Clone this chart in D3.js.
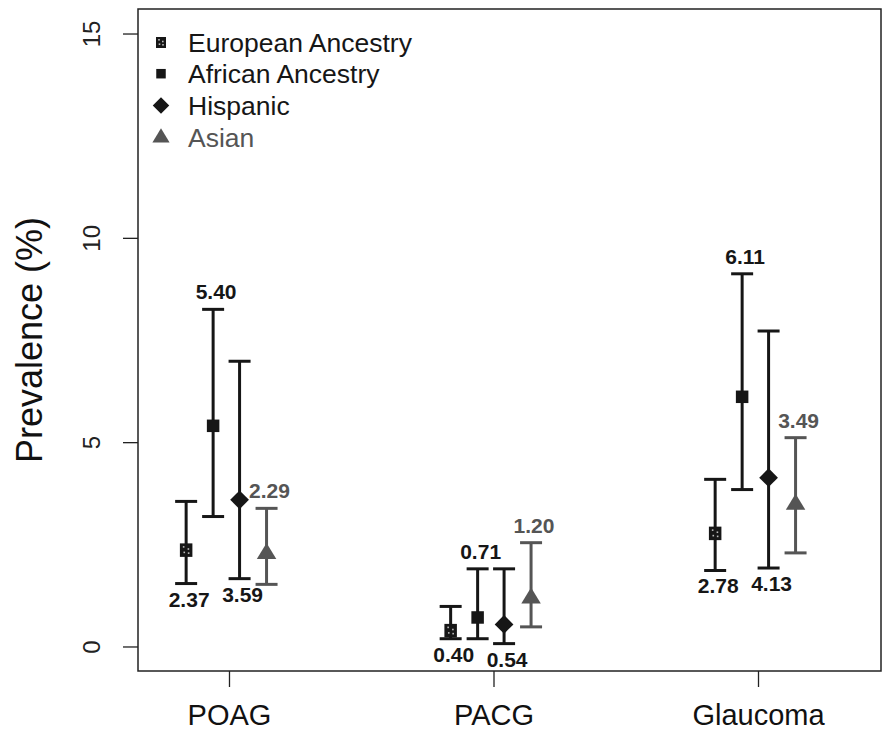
<!DOCTYPE html>
<html>
<head>
<meta charset="utf-8">
<script src="https://cdn.jsdelivr.net/npm/d3@7"></script>
<style>
  html, body { margin: 0; padding: 0; background: #fff; }
  svg { display: block; }
  text { font-family: "Liberation Sans", Arial, Helvetica, sans-serif; }
</style>
</head>
<body>
<svg id="chart" width="884" height="732"></svg>
<script>
// Glaucoma prevalence by ancestry: point estimate with 95% interval
const categories = ["POAG", "PACG", "Glaucoma"];
const groups = ["European Ancestry", "African Ancestry", "Hispanic", "Asian"];

const europeanEst = [2.37, 0.40, 2.78];
const europeanLow = [1.54, 0.19, 1.86];
const europeanHigh = [3.55, 0.98, 4.09];

const africanEst = [5.40, 0.71, 6.11];
const africanLow = [3.18, 0.19, 3.84];
const africanHigh = [8.25, 1.90, 9.12];

const hispanicEst = [3.59, 0.54, 4.13];
const hispanicLow = [1.66, 0.07, 1.92];
const hispanicHigh = [6.98, 1.90, 7.72];

const asianEst = [2.29, 1.20, 3.49];
const asianLow = [1.52, 0.48, 2.29];
const asianHigh = [3.38, 2.54, 5.11];

const yTicks = [0, 5, 10, 15];

const seriesTable = [
  { name: groups[0], est: europeanEst, low: europeanLow, high: europeanHigh, shape: "pattern", color: "#161616", labelPos: "below", offset: -0.162 },
  { name: groups[1], est: africanEst, low: africanLow, high: africanHigh, shape: "square", color: "#161616", labelPos: "above", offset: -0.06 },
  { name: groups[2], est: hispanicEst, low: hispanicLow, high: hispanicHigh, shape: "diamond", color: "#161616", labelPos: "below", offset: 0.04 },
  { name: groups[3], est: asianEst, low: asianLow, high: asianHigh, shape: "triangle", color: "#555555", labelPos: "above", offset: 0.142 }
];

const svg = d3.select("#chart");
const box = { left: 138, right: 881, top: 9, bottom: 671 };

const x = d3.scaleLinear().domain([0.656, 3.465]).range([box.left, box.right]);
const y = d3.scaleLinear().domain([-0.6, 15.6]).range([box.bottom, box.top]);

// plot frame
svg.append("rect")
  .attr("x", box.left).attr("y", box.top)
  .attr("width", box.right - box.left).attr("height", box.bottom - box.top)
  .attr("fill", "none").attr("stroke", "#222").attr("stroke-width", 1.5);

// y axis
const yAxis = d3.axisLeft(y).tickValues(yTicks).tickSize(15).tickPadding(8);
const gy = svg.append("g").attr("transform", `translate(${box.left},0)`).call(yAxis);
gy.select(".domain").remove();
gy.selectAll(".tick line").attr("stroke", "#222").attr("stroke-width", 1.3);
gy.selectAll(".tick text")
  .attr("x", null).attr("dy", null)
  .attr("font-size", 24).attr("fill", "#222")
  .attr("text-anchor", "middle")
  .attr("transform", "translate(-38,0) rotate(-90)");

// x axis
const xAxis = d3.axisBottom(x).tickValues([1, 2, 3]).tickFormat((d, i) => categories[i]).tickSize(16).tickPadding(0);
const gx = svg.append("g").attr("transform", `translate(0,${box.bottom})`).call(xAxis);
gx.select(".domain").remove();
gx.selectAll(".tick line").attr("stroke", "#222").attr("stroke-width", 1.3);
gx.selectAll(".tick text")
  .attr("y", 54).attr("dy", null)
  .attr("font-size", 29).attr("fill", "#111");

// y axis title
svg.append("text")
  .attr("transform", `translate(42,${y(7.5)}) rotate(-90)`)
  .attr("text-anchor", "middle")
  .attr("font-size", 36).attr("fill", "#111")
  .text("Prevalence (%)");

function drawSymbol(g, shape, cx, cy, color, s) {
  if (shape === "square") {
    g.append("rect").attr("x", cx - s / 2).attr("y", cy - s / 2)
      .attr("width", s).attr("height", s).attr("fill", color);
  } else if (shape === "pattern") {
    g.append("rect").attr("x", cx - s / 2).attr("y", cy - s / 2)
      .attr("width", s).attr("height", s + 1).attr("fill", color);
    [[-0.2, -0.22], [0.18, -0.05], [-0.15, 0.22], [0.2, 0.28]].forEach(p => {
      g.append("rect").attr("x", cx + p[0] * s - 0.8).attr("y", cy + p[1] * s - 0.8)
        .attr("width", 1.6).attr("height", 1.6).attr("fill", "#bbb");
    });
  } else if (shape === "diamond") {
    const r = s * 0.75;
    g.append("path")
      .attr("d", `M${cx},${cy - r}L${cx + r},${cy}L${cx},${cy + r}L${cx - r},${cy}Z`)
      .attr("fill", color);
  } else if (shape === "triangle") {
    const w = s * 0.78, h = s * 0.8;
    g.append("path")
      .attr("d", `M${cx},${cy - h}L${cx + w},${cy + h * 0.6}L${cx - w},${cy + h * 0.6}Z`)
      .attr("fill", color);
  }
}

const capHalf = 11;
const marks = svg.append("g");

seriesTable.forEach(s => {
  categories.forEach((c, i) => {
    const cx = x(i + 1 + s.offset);
    const g = marks.append("g");
    // interval line and caps
    g.append("line").attr("x1", cx).attr("x2", cx)
      .attr("y1", y(s.low[i])).attr("y2", y(s.high[i]))
      .attr("stroke", s.color).attr("stroke-width", 3);
    [s.low[i], s.high[i]].forEach(v => {
      g.append("line").attr("x1", cx - capHalf).attr("x2", cx + capHalf)
        .attr("y1", y(v)).attr("y2", y(v))
        .attr("stroke", s.color).attr("stroke-width", 3);
    });
    drawSymbol(g, s.shape, cx, y(s.est[i]), s.color, 12.5);
    // value label
    const ly = s.labelPos === "above" ? y(s.high[i]) - 10 : y(s.low[i]) + 23;
    g.append("text")
      .attr("x", cx + 3).attr("y", ly)
      .attr("text-anchor", "middle")
      .attr("font-size", 21).attr("font-weight", "bold")
      .attr("fill", s.color)
      .text(s.est[i].toFixed(2));
  });
});

// legend
const legend = svg.append("g");
const legendSizes = [10, 9.5, 11, 11];
seriesTable.forEach((s, k) => {
  const cy = 42 + k * 31.7;
  drawSymbol(legend, s.shape, 161, cy, s.color, legendSizes[k]);
  legend.append("text")
    .attr("x", 188).attr("y", cy + 9.5)
    .attr("font-size", 26.5).attr("fill", s.color)
    .text(s.name);
});
</script>
</body>
</html>
